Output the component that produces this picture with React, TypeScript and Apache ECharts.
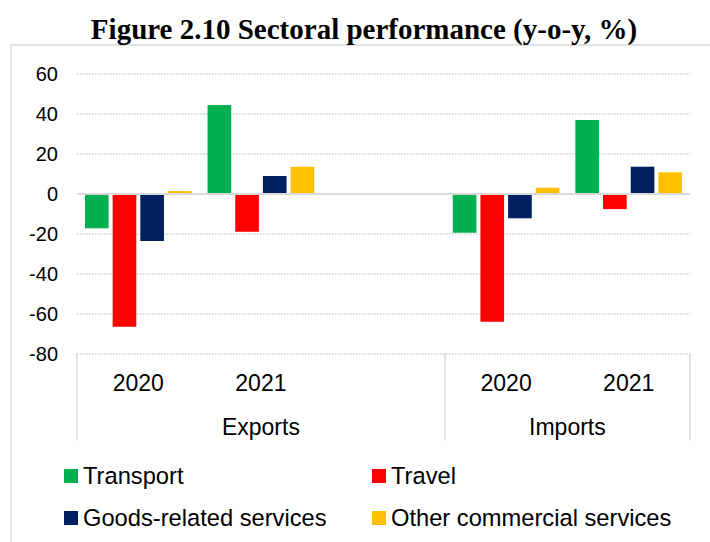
import React, { useEffect, useRef } from "react";
import * as echarts from "echarts";

const categories = ["2020", "2021", "", "2020", "2021"];
const groupNames = ["Exports", "Imports"];
const groupBounds = [0, 3, 5];
const yTicks = { min: -80, max: 60, interval: 20 };

const seriesNames = ["Transport", "Travel", "Goods-related services", "Other commercial services"];
const colors = ["#00B050", "#FF0000", "#002060", "#FFC000"];
const transport = [-17.4, 44.3, null, -19.6, 36.7];
const travel = [-66.6, -19.1, null, -64.1, -7.8];
const goods = [-23.7, 8.7, null, -12.4, 13.4];
const other = [1.2, 13.4, null, 2.9, 10.6];

const FONT = "Liberation Sans, Arial, sans-serif";

export default function App() {
  const ref = useRef<HTMLDivElement>(null);
  useEffect(() => {
    if (!ref.current) return;
    const chart = echarts.init(ref.current, undefined, { renderer: "svg" });
    const values = [transport, travel, goods, other];
    const groupMids = groupNames.map((_, i) => (groupBounds[i] + groupBounds[i + 1]) / 2);
    const legendPos = [
      { left: 64, top: 464 },
      { left: 372, top: 464 },
      { left: 64, top: 506 },
      { left: 372, top: 506 },
    ];
    chart.setOption({
      animation: false,
      backgroundColor: "#ffffff",
      graphic: [
        {
          type: "rect",
          shape: { x: 11, y: 45, width: 740, height: 540 },
          style: { fill: "none", stroke: "#d9d9d9", lineWidth: 1.5 },
          silent: true,
        },
        {
          type: "text",
          x: 364,
          y: 29,
          style: {
            text: "Figure 2.10 Sectoral performance (y-o-y, %)",
            font: "bold 29px 'Liberation Serif', 'Times New Roman', serif",
            fill: "#000",
            textAlign: "center",
            textVerticalAlign: "middle",
          },
        },
      ],
      legend: seriesNames.map((n, i) => ({
        data: [n],
        left: legendPos[i].left,
        top: legendPos[i].top,
        icon: "rect",
        itemWidth: 14,
        itemHeight: 14,
        padding: 0,
        selectedMode: false,
        textStyle: { fontSize: 23.7, fontFamily: FONT, color: "#000" },
      })),
      grid: { left: 77, right: 20, top: 73.5, bottom: 188.5, containLabel: false },
      xAxis: [
        {
          type: "category",
          data: categories,
          axisLine: { show: false, onZero: false },
          axisTick: { show: false },
          axisLabel: { fontSize: 23, fontFamily: FONT, color: "#000", margin: 18, interval: 0 },
          splitLine: { show: false },
        },
        {
          type: "value",
          min: groupBounds[0],
          max: groupBounds[groupBounds.length - 1],
          position: "bottom",
          axisLine: { show: false, onZero: false },
          splitLine: { show: false },
          axisTick: {
            show: true,
            customValues: groupBounds,
            length: 87,
            lineStyle: { color: "#d9d9d9", width: 1.5 },
          },
          axisLabel: {
            show: true,
            customValues: groupMids,
            formatter: (v: number) => groupNames[groupMids.indexOf(v)] ?? "",
            fontSize: 23,
            fontFamily: FONT,
            color: "#000",
            margin: 62,
          },
        },
      ],
      yAxis: {
        type: "value",
        min: yTicks.min,
        max: yTicks.max,
        interval: yTicks.interval,
        axisLine: { show: false },
        axisTick: { show: false },
        axisLabel: { fontSize: 20, fontFamily: FONT, color: "#000", margin: 19 },
        splitLine: { lineStyle: { color: "#d0d0d0", type: "dotted", width: 1.5 } },
      },
      series: seriesNames.map((n, i) => ({
        name: n,
        type: "bar",
        xAxisIndex: 0,
        data: values[i],
        itemStyle: { color: colors[i] },
        barGap: "17%",
        barCategoryGap: "13%",
        ...(i === 0
          ? {
              markLine: {
                silent: true,
                symbol: "none",
                label: { show: false },
                lineStyle: { color: "#d9d9d9", width: 2, type: "solid" },
                data: [{ yAxis: 0 }],
              },
            }
          : {}),
      })),
    });
    return () => chart.dispose();
  }, []);
  return (
    <div
      ref={ref}
      style={{ position: "fixed", left: 0, top: 0, width: 710, height: 542, background: "#fff" }}
    />
  );
}
